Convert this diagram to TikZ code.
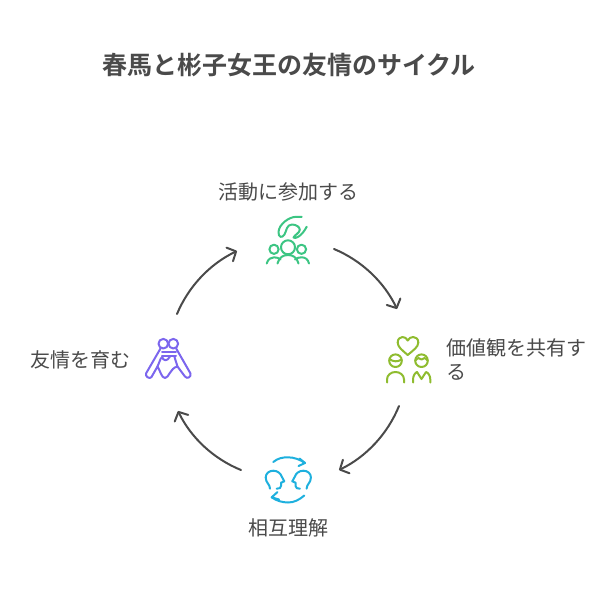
\documentclass[tikz,border=0pt]{standalone}
\usepackage{fontspec}
\setmainfont{Noto Sans CJK JP}[BoldFont={Noto Sans CJK JP Bold}]
\usetikzlibrary{arrows.meta}
\definecolor{ink}{HTML}{4A4A4A}
\definecolor{cgreen}{HTML}{3CC583}
\definecolor{colive}{HTML}{8FBC2F}
\definecolor{cblue}{HTML}{1EB0DE}
\definecolor{cpurple}{HTML}{7C66EE}
\tikzset{
  x=1pt,y=-1pt,
  titletext/.style={font=\fontsize{25}{30}\selectfont\bfseries,text=ink,inner sep=0pt,anchor=west},
  labeltext/.style={font=\fontsize{20}{25}\selectfont,text=ink,inner sep=0pt,anchor=west},
  cycarrow/.style={draw=ink,line width=2pt,-{Straight Barb[length=7pt,width=15pt,line width=2pt,round]},line cap=round,looseness=0.88},
  icon/.style={line width=2pt,line cap=round,line join=round},
}
\begin{document}
\begin{tikzpicture}
\useasboundingbox (0,0) rectangle (612,589);
\fill[white] (0,0) rectangle (612,589);
\node[titletext] (title) at (102,65) {春馬と彬子女王の友情のサイクル};
\node[labeltext] (l1) at (218,191.5) {活動に参加する};
\node[labeltext] (l2a) at (446,348) {価値観を共有す};
\node[labeltext] (l2b) at (446,372) {る};
\node[labeltext] (l3) at (248,528) {相互理解};
\node[labeltext] (l4) at (30,360) {友情を育む};
% arrow ends
\coordinate (a1s) at (334,249); \coordinate (a1e) at (397,309);
\coordinate (a2s) at (399,406); \coordinate (a2e) at (339,470);
\coordinate (a3s) at (241,470); \coordinate (a3e) at (178,411);
\coordinate (a4s) at (177,314); \coordinate (a4e) at (237,251);
\draw[cycarrow] (a1s) to[bend left=21] (a1e);
\draw[cycarrow] (a2s) to[bend left=21] (a2e);
\draw[cycarrow] (a3s) to[bend left=21] (a3e);
\draw[cycarrow] (a4s) to[bend left=21] (a4e);
% green icon
\begin{scope}[icon,draw=cgreen]
\draw (288,247.3) circle (7);
\draw (274,249.3) circle (4.6);
\draw (301.5,249.3) circle (4.6);
\draw (277.5,263.5) .. controls (279,257.5) and (283,255) .. (288,255) .. controls (293,255) and (297,257.5) .. (298.5,263.5);
\draw (266.7,263.5) .. controls (268,259) and (271,257.3) .. (274,257.3) .. controls (276.5,257.3) and (279,258) .. (280.5,259.5);
\draw (309,263.5) .. controls (308,259) and (305,257.3) .. (301.5,257.3) .. controls (299,257.3) and (296.5,258) .. (295,259.5);
\draw (301.7,216.8) -- (296,216.8) .. controls (289,217) and (279,224) .. (278.5,232) .. controls (278.3,237.5) and (282,238.5) .. (284.5,234.5) .. controls (286.5,231) and (286.5,224.5) .. (292,224.5) .. controls (296,224.5) and (300,227) .. (299.8,230) .. controls (299.5,233) and (294.5,235) .. (293.5,237.5) .. controls (295,239.5) and (302,236) .. (306.7,226.7);
\end{scope}
% olive icon
\begin{scope}[icon,draw=colive]
\draw (407.7,355) .. controls (402,350) and (397.7,347) .. (397.7,342.5) .. controls (397.7,339) and (400,337) .. (402.5,337) .. controls (404.8,337) and (406.5,338.2) .. (407.7,340.5) .. controls (409,338.2) and (410.8,337) .. (413.2,337) .. controls (416,337) and (418.3,339) .. (418.3,342.5) .. controls (418.3,347) and (413.5,350) .. (407.7,355) -- cycle;
\draw (395.5,360.7) circle (6.3);
\draw (389.5,359) .. controls (393,362) and (398,362) .. (401.5,359.5);
\draw (387,382.5) -- (387,379.5) .. controls (387,375) and (391,372) .. (395.5,372) .. controls (400,372) and (404,375) .. (404,379.5) -- (404,382.5);
\draw (421.5,360.7) circle (6.3);
\draw (415.5,360.5) .. controls (417.5,357.5) and (420,357.5) .. (421.5,359.5) .. controls (423,357.5) and (425.5,357.5) .. (427.5,360.5);
\draw (413,382.5) -- (413,379.5) .. controls (413,375.5) and (415.5,372.5) .. (417,372) -- (421.5,379) -- (426,372) .. controls (428,372.5) and (430.3,375.5) .. (430.3,379.5) -- (430.3,382.5);
\end{scope}
% blue icon
\begin{scope}[icon,draw=cblue]
\draw (273.3,462) .. controls (278,458) and (283,457.3) .. (288,457.3) .. controls (294,457.3) and (300,459.5) .. (305,463);
\draw (299.5,458.5) -- (305,463) -- (298.5,466);
\draw (304.3,495.5) .. controls (299,500) and (294,502.5) .. (288,502.5) .. controls (282,502.5) and (276,500.5) .. (271.7,497.3);
\draw (277.5,492) -- (271.7,497.3) -- (279,499.5);
\draw (270,488.7) .. controls (270,484) and (265.7,483) .. (265.7,477.5) .. controls (265.7,473.5) and (269,470.7) .. (273.3,470.7) .. controls (278,470.7) and (281,474) .. (281.7,476.5) -- (284.3,481.3) -- (281,482.7) -- (281,486) .. controls (281,488) and (279.5,488.7) .. (276.7,488.7);
\draw (306.6,488.7) .. controls (306.6,484) and (310.9,483) .. (310.9,477.5) .. controls (310.9,473.5) and (307.6,470.7) .. (303.3,470.7) .. controls (298.6,470.7) and (295.6,474) .. (294.9,476.5) -- (292.3,481.3) -- (295.6,482.7) -- (295.6,486) .. controls (295.6,488) and (297.1,488.7) .. (299.9,488.7);
\end{scope}
% purple icon
\begin{scope}[icon,draw=cpurple]
\draw (163.3,343.7) circle (4.8);
\draw (173.3,343.7) circle (4.8);
\draw (160.5,348.5) -- (146,373.5) .. controls (145,376.5) and (149.5,379.5) .. (151.5,377) -- (157.5,366.5) .. controls (160,370) and (161.5,378) .. (165,378) .. controls (169,378) and (170,368) .. (177.5,366.5) -- (185,376.5) .. controls (187,379.5) and (191.5,377) .. (190.5,373.5) -- (176.2,348.5);
\draw (162,351.5) -- (176,351.5);
\draw (162,356) -- (176,356);
\draw (162,356.5) .. controls (163,361) and (167,362) .. (170,356.5);
\draw (157.5,366.5) -- (161,358);
\draw (177.5,366.5) -- (174.5,357);
\end{scope}
\end{tikzpicture}
\end{document}
